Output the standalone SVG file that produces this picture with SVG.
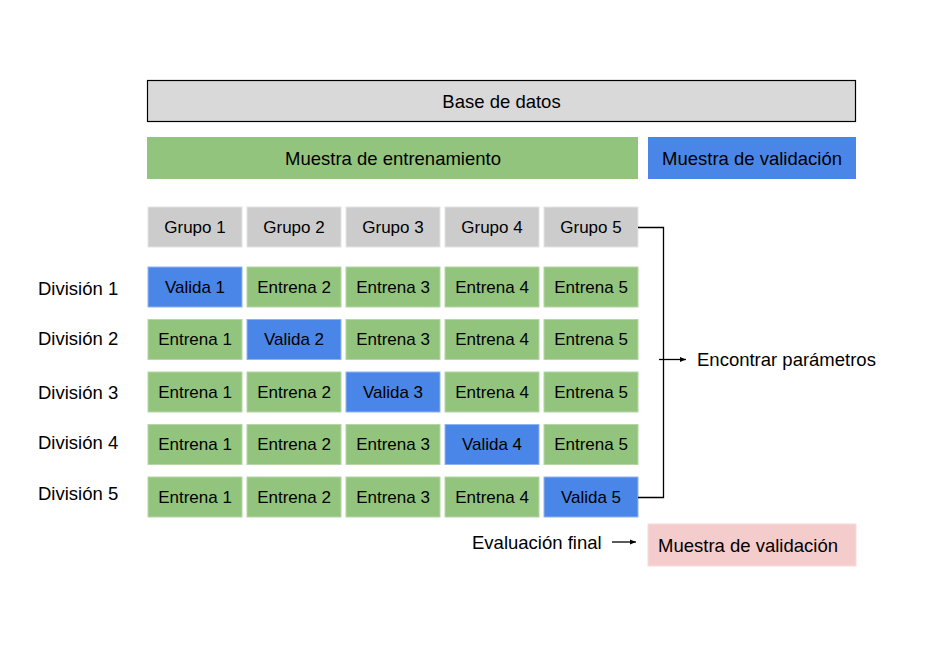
<svg xmlns="http://www.w3.org/2000/svg" width="938" height="671" viewBox="0 0 938 671">
<style>
text{font-family:"Liberation Sans",Arial,sans-serif;fill:#000;dominant-baseline:central}
.big{font-size:18.5px;text-anchor:middle}
.cell{font-size:17px;text-anchor:middle}
.lab{font-size:18.5px}
.g{fill:#cccccc;stroke:#e4e4e4;stroke-width:1}
.tr{fill:#93c47d;stroke:#b5d6a6;stroke-width:1}
.va{fill:#4a86e8;stroke:#8fb3ee;stroke-width:1}
.ln{fill:none;stroke:#000;stroke-width:1.3}
</style>
<defs>
<marker id="ah" viewBox="0 0 10 10" refX="10" refY="5" markerWidth="6" markerHeight="6" markerUnits="userSpaceOnUse" orient="auto"><path d="M0,1 L10,5 L0,9 z" fill="#000"/></marker>
</defs>
<rect width="938" height="671" fill="#fff"/>
<g id="base"><rect x="147.5" y="80.5" width="708" height="41" fill="#d9d9d9" stroke="#000" stroke-width="1.2"/><text class="big" x="501.5" y="101">Base de datos</text></g>
<g id="entrenamiento"><rect x="147" y="137" width="491" height="42" fill="#93c47d"/><text class="big" x="393" y="158">Muestra de entrenamiento</text></g>
<g id="validacion"><rect x="648" y="137" width="208" height="42" fill="#4a86e8"/><text class="big" x="752" y="158">Muestra de validación</text></g>
<g id="grupos">
<rect class="g" x="148" y="207" width="94" height="40"/><text class="cell" x="195" y="227">Grupo 1</text>
<rect class="g" x="247" y="207" width="94" height="40"/><text class="cell" x="294" y="227">Grupo 2</text>
<rect class="g" x="346" y="207" width="94" height="40"/><text class="cell" x="393" y="227">Grupo 3</text>
<rect class="g" x="445" y="207" width="94" height="40"/><text class="cell" x="492" y="227">Grupo 4</text>
<rect class="g" x="544" y="207" width="94" height="40"/><text class="cell" x="591" y="227">Grupo 5</text>
</g>
<g id="div1">
<text class="lab" x="38" y="288">División 1</text>
<rect class="va" x="148" y="267" width="94" height="40"/><text class="cell" x="195" y="287">Valida 1</text>
<rect class="tr" x="247" y="267" width="94" height="40"/><text class="cell" x="294" y="287">Entrena 2</text>
<rect class="tr" x="346" y="267" width="94" height="40"/><text class="cell" x="393" y="287">Entrena 3</text>
<rect class="tr" x="445" y="267" width="94" height="40"/><text class="cell" x="492" y="287">Entrena 4</text>
<rect class="tr" x="544" y="267" width="94" height="40"/><text class="cell" x="591" y="287">Entrena 5</text>
</g>
<g id="div2">
<text class="lab" x="38" y="338">División 2</text>
<rect class="tr" x="148" y="319.5" width="94" height="40"/><text class="cell" x="195" y="339.5">Entrena 1</text>
<rect class="va" x="247" y="319.5" width="94" height="40"/><text class="cell" x="294" y="339.5">Valida 2</text>
<rect class="tr" x="346" y="319.5" width="94" height="40"/><text class="cell" x="393" y="339.5">Entrena 3</text>
<rect class="tr" x="445" y="319.5" width="94" height="40"/><text class="cell" x="492" y="339.5">Entrena 4</text>
<rect class="tr" x="544" y="319.5" width="94" height="40"/><text class="cell" x="591" y="339.5">Entrena 5</text>
</g>
<g id="div3">
<text class="lab" x="38" y="392">División 3</text>
<rect class="tr" x="148" y="372" width="94" height="40"/><text class="cell" x="195" y="392">Entrena 1</text>
<rect class="tr" x="247" y="372" width="94" height="40"/><text class="cell" x="294" y="392">Entrena 2</text>
<rect class="va" x="346" y="372" width="94" height="40"/><text class="cell" x="393" y="392">Valida 3</text>
<rect class="tr" x="445" y="372" width="94" height="40"/><text class="cell" x="492" y="392">Entrena 4</text>
<rect class="tr" x="544" y="372" width="94" height="40"/><text class="cell" x="591" y="392">Entrena 5</text>
</g>
<g id="div4">
<text class="lab" x="38" y="442">División 4</text>
<rect class="tr" x="148" y="424.5" width="94" height="40"/><text class="cell" x="195" y="444.5">Entrena 1</text>
<rect class="tr" x="247" y="424.5" width="94" height="40"/><text class="cell" x="294" y="444.5">Entrena 2</text>
<rect class="tr" x="346" y="424.5" width="94" height="40"/><text class="cell" x="393" y="444.5">Entrena 3</text>
<rect class="va" x="445" y="424.5" width="94" height="40"/><text class="cell" x="492" y="444.5">Valida 4</text>
<rect class="tr" x="544" y="424.5" width="94" height="40"/><text class="cell" x="591" y="444.5">Entrena 5</text>
</g>
<g id="div5">
<text class="lab" x="38" y="493">División 5</text>
<rect class="tr" x="148" y="477" width="94" height="40"/><text class="cell" x="195" y="497">Entrena 1</text>
<rect class="tr" x="247" y="477" width="94" height="40"/><text class="cell" x="294" y="497">Entrena 2</text>
<rect class="tr" x="346" y="477" width="94" height="40"/><text class="cell" x="393" y="497">Entrena 3</text>
<rect class="tr" x="445" y="477" width="94" height="40"/><text class="cell" x="492" y="497">Entrena 4</text>
<rect class="va" x="544" y="477" width="94" height="40"/><text class="cell" x="591" y="497">Valida 5</text>
</g>
<g id="parametros"><text class="lab" x="697" y="359">Encontrar parámetros</text></g>
<g id="evaluacion"><text class="lab" x="472" y="542">Evaluación final</text></g>
<g id="final"><rect x="648" y="524" width="208" height="42" fill="#f4cccc" stroke="#f8dcdc" stroke-width="1"/><text class="big" x="748" y="545">Muestra de validación</text></g>
<g id="connectors">
<path class="ln" d="M638,227.5 H663.5 V497.5 H638"/>
<line class="ln" x1="659" y1="359.5" x2="686" y2="359.5" marker-end="url(#ah)"/>
<line class="ln" x1="612" y1="542" x2="636" y2="542" marker-end="url(#ah)"/>
</g>
</svg>
